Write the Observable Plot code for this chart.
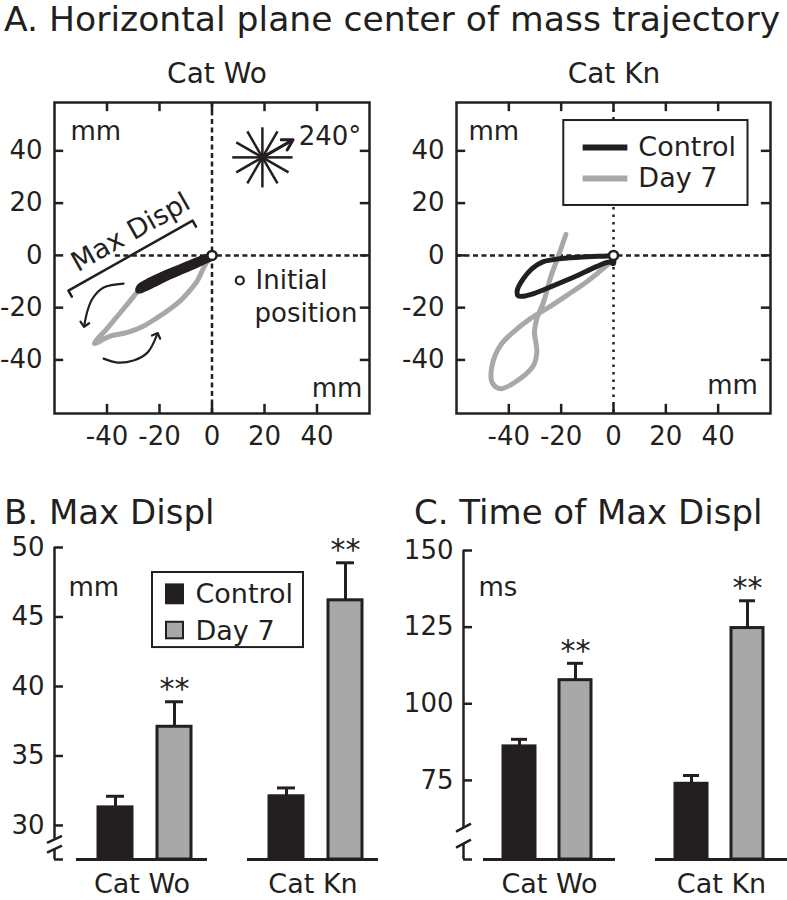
<!DOCTYPE html>
<html><head><meta charset="utf-8">
<script src="https://cdn.jsdelivr.net/npm/d3@7"></script>
<script src="https://cdn.jsdelivr.net/npm/@observablehq/plot@0.6"></script>
<style>
body{margin:0;background:#fff}
#fig{position:relative;width:787px;height:900px;overflow:hidden;background:#fff}
#fig svg{position:absolute;left:0;top:0}
</style></head><body><div id="fig"></div>
<script>
// ---------- data ----------
const cats = ["Cat Wo", "Cat Kn"];
const conditions = ["Control", "Day 7"];
const posTicks = [-40, -20, 0, 20, 40];

// center-of-mass trajectories, mm [x, y]
const woControl = [[0,0],[-4,-1.3],[-9,-3.3],[-14,-5.4],[-19,-7.5],[-23.5,-9.6],[-27.5,-12],[-28,-13.4],[-26,-12.8],[-22,-10.9],[-17,-8.4],[-12,-6.2],[-7,-4.1],[-3,-2.2],[0,-0.8]];
const woDay7 = [[0,0],[-6,-2.5],[-12,-5],[-18,-7.5],[-24,-10.5],[-28,-13.6],[-32,-18.4],[-36,-23.2],[-40,-28],[-44.8,-33.7],[-39,-31],[-32.2,-29.5],[-26,-27],[-20.8,-23.8],[-16,-20.5],[-12,-17.3],[-8.5,-13.5],[-5.5,-9.6],[-3.3,-5],[-1.3,-1.5],[0,0]];
const knControl = [[0,0],[-2.5,-0.2],[-10,-0.5],[-20,-1.2],[-27,-2.5],[-31,-5],[-34.5,-9],[-36.8,-13.5],[-36.4,-15.5],[-34.5,-15.6],[-30.5,-14.6],[-23,-11.6],[-14,-7.8],[-6.5,-4.3],[-1.5,-2.5],[0,-3.2],[0,0]];
const knDay7 = [[0,0],[-0.7,-1.9],[-3.9,-5],[-10.2,-10.1],[-17.8,-15.3],[-25.4,-20.3],[-31.8,-24.2],[-38.2,-29.3],[-43.2,-34.4],[-46.4,-42.1],[-46.4,-48.6],[-43.2,-51],[-35.6,-47.1],[-30.6,-42.1],[-29.3,-36.9],[-30.2,-29.3],[-29.3,-24.2],[-26.7,-17.8],[-24.2,-8.9],[-21,0],[-18.2,8]];

// perturbation directions (deg) and highlighted one
const directions = [0, 30, 60, 90, 120, 150, 180, 210, 240, 270, 300, 330];

// B. max displacement (mm), mean and SE
const maxDisplControl = [31.3, 32.1];
const maxDisplControlSE = [0.8, 0.6];
const maxDisplDay7 = [37.1, 46.2];
const maxDisplDay7SE = [1.8, 2.7];
const maxDisplTicks = [30, 35, 40, 45, 50];

// C. time of max displacement (ms)
const timeControl = [86.1, 73.9];
const timeControlSE = [2.3, 2.7];
const timeDay7 = [107.7, 124.7];
const timeDay7SE = [5.5, 8.9];
const timeTicks = [75, 100, 125, 150];
const significance = ["**", "**"];

// ---------- style ----------
const ink = "#231f20", grey = "#a8a8a8";
const FONT = "DejaVu Sans";
const W = 787, H = 900;
const baseStyle = {background: "transparent", fontFamily: FONT, fontSize: "26px", color: ink, overflow: "visible"};
const fig = document.getElementById("fig");
const fmt = d => String(d);
const rad = a => a * Math.PI / 180;

function frameMarks(xd, yd) {
  const tl = 3.5;
  return [
    Plot.ruleX(posTicks, {y1: yd[0], y2: yd[0] + tl, stroke: ink, strokeWidth: 2.5}),
    Plot.ruleX(posTicks, {y1: yd[1], y2: yd[1] - tl, stroke: ink, strokeWidth: 2.5}),
    Plot.ruleY(posTicks, {x1: xd[0], x2: xd[0] + tl, stroke: ink, strokeWidth: 2.5}),
    Plot.ruleY(posTicks, {x1: xd[1], x2: xd[1] - tl, stroke: ink, strokeWidth: 2.5}),
    Plot.frame({stroke: ink, strokeWidth: 2.5}),
    Plot.axisX(posTicks, {anchor: "bottom", tickSize: 0, tickPadding: 13, tickFormat: fmt, fontSize: 26, label: null}),
    Plot.axisY(posTicks, {anchor: "left", tickSize: 0, tickPadding: 12, tickFormat: fmt, fontSize: 26, label: null})
  ];
}

const xd = [-60, 60], yd = [-60.5, 58.5];

// ---------- Panel A, Cat Wo ----------
const star = {cx: 19.2, cy: 37.5, r: 11.5};
const bracket = [[-53.4, -15.8], [-54.7, -13.5], [-7.4, 13.3], [-6.1, 11.0]];
const arrowDown = [[-33.7, -10.8], [-41.3, -12.3], [-45.5, -16.5], [-47.4, -21.1], [-48.6, -26.5]];
const arrowUp = [[-41.3, -39.5], [-36, -41], [-29.9, -40.2], [-24.6, -37.2], [-21, -30.5]];

fig.append(Plot.plot({
  width: W, height: H, marginLeft: 54, marginRight: W - 369, marginTop: 102, marginBottom: H - 413,
  x: {domain: xd}, y: {domain: yd}, style: baseStyle,
  marks: [
    Plot.ruleY([0], {x1: -36.8, x2: 60, stroke: ink, strokeWidth: 2.5, strokeDasharray: "5,3.5"}),
    Plot.ruleX([0], {stroke: ink, strokeWidth: 2.5, strokeDasharray: "5,3.5"}),
    Plot.line(woDay7, {stroke: grey, strokeWidth: 5, curve: "catmull-rom", strokeLinejoin: "round", strokeLinecap: "round"}),
    Plot.line(woControl, {stroke: ink, strokeWidth: 6.5, curve: "catmull-rom", strokeLinejoin: "round", strokeLinecap: "round"}),
    Plot.dot([[0, 0]], {r: 4.5, fill: "white", stroke: ink, strokeWidth: 2.5}),
    // direction star
    Plot.link(directions, {x1: star.cx, y1: star.cy,
      x2: a => star.cx + star.r * Math.cos(rad(a)), y2: a => star.cy + star.r * Math.sin(rad(a)),
      stroke: ink, strokeWidth: 2.5}),
    Plot.arrow([30], {x1: star.cx, y1: star.cy,
      x2: a => star.cx + 13.5 * Math.cos(rad(a)), y2: a => star.cy + 13.5 * Math.sin(rad(a)),
      stroke: ink, strokeWidth: 3, headLength: 10, bend: 0}),
    Plot.text(["240°"], {x: 33, y: 45.5, textAnchor: "start", fontSize: 26, fill: ink}),
    // max displacement bracket
    Plot.line(bracket, {stroke: ink, strokeWidth: 2.5}),
    Plot.text(["Max Displ"], {x: -31, y: 8.8, rotate: -29.4, fontSize: 27, fill: ink}),
    // movement arrows
    Plot.line(arrowDown, {stroke: ink, strokeWidth: 2.2, curve: "catmull-rom", markerEnd: "arrow"}),
    Plot.line(arrowUp, {stroke: ink, strokeWidth: 2.2, curve: "catmull-rom", markerEnd: "arrow"}),
    // initial position key
    Plot.dot([[10.6, -9.6]], {r: 4, fill: "white", stroke: ink, strokeWidth: 2.2}),
    Plot.text(["Initial"], {x: 16.6, y: -9.8, textAnchor: "start", fontSize: 26, fill: ink}),
    Plot.text(["position"], {x: 16.2, y: -22.2, textAnchor: "start", fontSize: 26, fill: ink}),
    Plot.text(["mm"], {x: -53.9, y: 47.5, textAnchor: "start", fontSize: 26, fill: ink}),
    Plot.text(["mm"], {x: 57.3, y: -51, textAnchor: "end", fontSize: 26, fill: ink}),
    ...frameMarks(xd, yd)
  ]
}));

// ---------- Panel A, Cat Kn ----------
const lgA = {x1: -19, x2: 51.4, y1: 19.1, y2: 51.6, sx1: -11.8, sx2: 5.3, tx: 9.5, yC: 41.3, yD: 29.4};
fig.append(Plot.plot({
  width: W, height: H, marginLeft: 456, marginRight: W - 770, marginTop: 102, marginBottom: H - 413,
  x: {domain: xd}, y: {domain: yd}, style: baseStyle,
  marks: [
    Plot.ruleY([0], {stroke: ink, strokeWidth: 2.5, strokeDasharray: "5,3.5"}),
    Plot.ruleX([0], {stroke: ink, strokeWidth: 2.5, strokeDasharray: "2.5,5"}),
    Plot.line(knDay7, {stroke: grey, strokeWidth: 5, curve: "catmull-rom", strokeLinejoin: "round", strokeLinecap: "round"}),
    Plot.line(knControl, {stroke: ink, strokeWidth: 5, curve: "catmull-rom", strokeLinejoin: "round", strokeLinecap: "round"}),
    Plot.dot([[0, 0]], {r: 4.5, fill: "white", stroke: ink, strokeWidth: 2.5}),
    // legend
    Plot.rect([lgA], {x1: "x1", x2: "x2", y1: "y1", y2: "y2", fill: "white", stroke: ink, strokeWidth: 2}),
    Plot.link(conditions, {x1: lgA.sx1, x2: lgA.sx2, y1: c => c === "Control" ? lgA.yC : lgA.yD, y2: c => c === "Control" ? lgA.yC : lgA.yD,
      stroke: c => c === "Control" ? ink : grey, strokeWidth: 6}),
    Plot.text(conditions, {x: lgA.tx, y: c => c === "Control" ? lgA.yC : lgA.yD, textAnchor: "start", fontSize: 27, fill: ink}),
    Plot.text(["mm"], {x: -55.4, y: 47.5, textAnchor: "start", fontSize: 26, fill: ink}),
    Plot.text(["mm"], {x: 55.2, y: -50, textAnchor: "end", fontSize: 26, fill: ink}),
    ...frameMarks(xd, yd)
  ]
}));

// ---------- bar charts ----------
function rowsFor(ctrl, ctrlSE, d7, d7SE) {
  return cats.flatMap((cat, i) => [
    {cat, cond: "Control", v: ctrl[i], se: ctrlSE[i], sig: ""},
    {cat, cond: "Day 7", v: d7[i], se: d7SE[i], sig: significance[i]}
  ]);
}

function barPlot({rows, yDomain, left, right, top, fxPad, xOpts}) {
  const base = yDomain[0];
  return Plot.plot({
    width: W, height: H, marginLeft: left, marginRight: W - right, marginTop: top, marginBottom: H - 859,
    fx: {domain: cats, paddingInner: fxPad, paddingOuter: 0, label: null},
    x: {domain: conditions, axis: null, ...xOpts},
    y: {domain: yDomain, axis: null},
    color: {domain: conditions, range: [ink, grey]},
    style: baseStyle,
    marks: [
      Plot.ruleY([base], {stroke: ink, strokeWidth: 3}),
      Plot.ruleX(rows, {fx: "cat", x: "cond", y1: "v", y2: d => d.v + d.se, stroke: ink, strokeWidth: 3}),
      Plot.tickY(rows, {fx: "cat", x: "cond", y: d => d.v + d.se, stroke: ink, strokeWidth: 3, inset: 8}),
      Plot.barY(rows, {fx: "cat", x: "cond", y1: base, y2: "v", fill: "cond", stroke: ink, strokeWidth: 3}),
      Plot.text(rows.filter(d => d.sig), {fx: "cat", x: "cond", y: d => d.v + d.se, text: "sig", dy: -12, fontSize: 30, fill: ink}),
      Plot.axisFx({anchor: "bottom", tickSize: 0, tickPadding: 14, fontSize: 27, label: null})
    ]
  });
}

function axisPlot({yDomain, ticks, axisX, top, breaks, breakHalf, unit, legend}) {
  const base = yDomain[0];
  const marks = [
    Plot.ruleX([0], {y1: breaks[0], y2: yDomain[1], stroke: ink, strokeWidth: 2.5}),
    Plot.ruleX([0], {y1: base, y2: breaks[1], stroke: ink, strokeWidth: 2.5}),
    Plot.link(breaks, {x1: -0.075, x2: 0.075, y1: b => b - breakHalf, y2: b => b + breakHalf, stroke: ink, strokeWidth: 2.5}),
    Plot.ruleY(ticks, {x1: 0, x2: 0.09, stroke: ink, strokeWidth: 2.5}),
    Plot.ruleY([base], {x1: 0, x2: 0.09, stroke: ink, strokeWidth: 2.5}),
    Plot.axisY(ticks, {anchor: "left", tickSize: 0, tickPadding: 10, tickFormat: fmt, fontSize: 26, label: null}),
    Plot.text([unit.text], {x: unit.x, y: unit.y, textAnchor: "start", fontSize: 26, fill: ink})
  ];
  if (legend) {
    const L = legend;
    marks.push(
      Plot.rect([L], {x1: "x1", x2: "x2", y1: "y1", y2: "y2", fill: "white", stroke: ink, strokeWidth: 2}),
      Plot.rect(conditions, {x1: L.sx1, x2: L.sx2,
        y1: c => c === "Control" ? L.cy1 : L.dy1, y2: c => c === "Control" ? L.cy2 : L.dy2,
        fill: c => c === "Control" ? ink : grey, stroke: ink, strokeWidth: 2}),
      Plot.text(conditions, {x: L.tx, y: c => c === "Control" ? L.cyT : L.dyT, textAnchor: "start", fontSize: 27, fill: ink})
    );
  }
  return Plot.plot({
    width: W, height: H, marginLeft: axisX, marginRight: W - axisX - 100, marginTop: top, marginBottom: H - 859,
    x: {domain: [0, 1], axis: null}, y: {domain: yDomain, axis: null},
    style: baseStyle, marks
  });
}

// B
const yB = [27.55, 50];
fig.append(barPlot({
  rows: rowsFor(maxDisplControl, maxDisplControlSE, maxDisplDay7, maxDisplDay7SE),
  yDomain: yB, left: 76, right: 378, top: 547, fxPad: 0.234,
  xOpts: {paddingInner: 0.43, paddingOuter: 0.315, align: 0.57}
}));
fig.append(axisPlot({
  yDomain: yB, ticks: maxDisplTicks, axisX: 54, top: 547, breaks: [29.0, 28.3], breakHalf: 0.25,
  unit: {text: "mm", x: 0.14, y: 47.1},
  legend: {x1: 0.98, x2: 2.49, y1: 42.8, y2: 48.2, sx1: 1.12, sx2: 1.29, cy1: 45.95, cy2: 47.31, dy1: 43.43, dy2: 44.62, tx: 1.41, cyT: 46.6, dyT: 44.0}
}));

// C
const yC = [49.2, 150];
fig.append(barPlot({
  rows: rowsFor(timeControl, timeControlSE, timeDay7, timeDay7SE),
  yDomain: yC, left: 483, right: 787, top: 550, fxPad: 0.2326,
  xOpts: {paddingInner: 0.42, paddingOuter: 0.368, align: 0.465}
}));
fig.append(axisPlot({
  yDomain: yC, ticks: timeTicks, axisX: 463, top: 550, breaks: [59.6, 54.4], breakHalf: 1.3,
  unit: {text: "ms", x: 0.15, y: 137.9}
}));

// ---------- headings ----------
const headings = [
  {text: "A. Horizontal plane center of mass trajectory", x: 4, y: 31, size: 34.6, anchor: "start"},
  {text: "Cat Wo", x: 217, y: 83, size: 28, anchor: "middle"},
  {text: "Cat Kn", x: 614, y: 83, size: 28, anchor: "middle"},
  {text: "B. Max Displ", x: 4, y: 524, size: 34, anchor: "start"},
  {text: "C. Time of Max Displ", x: 414, y: 524, size: 34, anchor: "start"}
];
const hs = d3.create("svg").attr("width", W).attr("height", H).attr("font-family", FONT);
hs.selectAll("text").data(headings).join("text")
  .attr("x", d => d.x).attr("y", d => d.y).attr("font-size", d => d.size)
  .attr("text-anchor", d => d.anchor).attr("fill", ink).text(d => d.text);
fig.append(hs.node());
</script>
</body></html>
